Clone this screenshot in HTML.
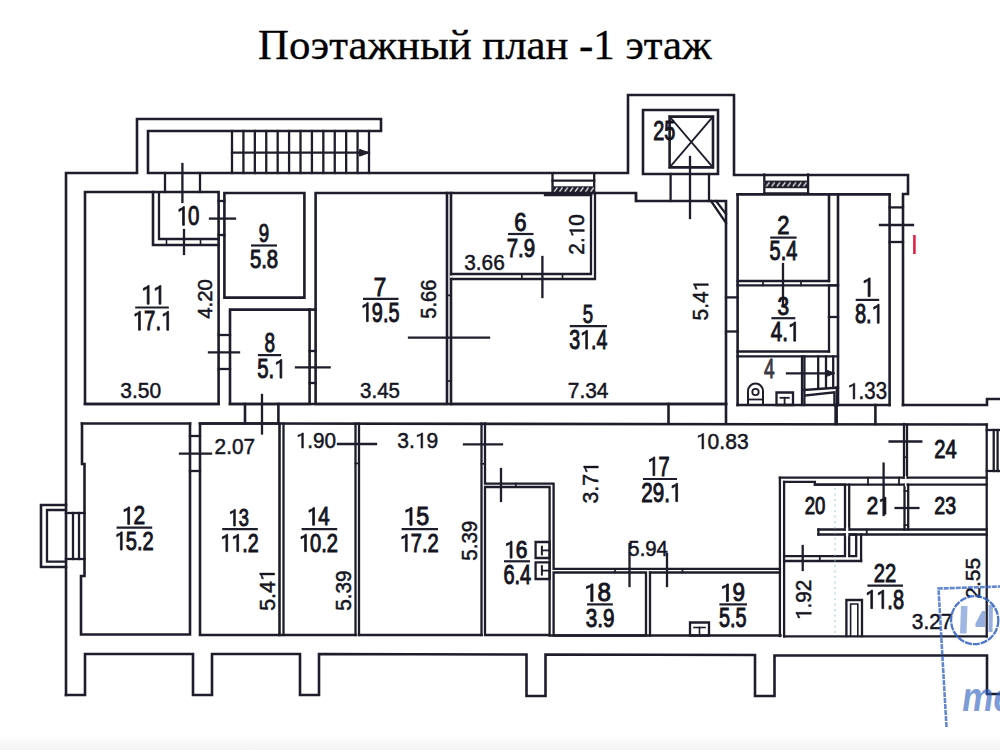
<!DOCTYPE html>
<html><head><meta charset="utf-8"><style>
html,body{margin:0;padding:0;background:#fff;width:1000px;height:750px;overflow:hidden}
svg{display:block}
</style></head><body>
<svg width="1000" height="750" viewBox="0 0 1000 750">
<defs><pattern id="hatchA" width="5.2" height="6.5" patternUnits="userSpaceOnUse" patternTransform="translate(553.5,186.3)"><rect width="5.2" height="6.5" fill="#1d1d2b"/><path d="M1.1,4.9 L3.6,1.6" stroke="#e6e6e6" stroke-width="1.3" stroke-linecap="round"/></pattern><pattern id="hatchB" width="5.3" height="7.6" patternUnits="userSpaceOnUse" patternTransform="translate(765.5,180.6)"><rect width="5.3" height="7.6" fill="#1d1d2b"/><path d="M1.1,5.5 L3.7,2.1" stroke="#e6e6e6" stroke-width="1.3" stroke-linecap="round"/></pattern></defs>
<rect width="1000" height="750" fill="#fff"/>
<defs><linearGradient id="bot" x1="0" y1="0" x2="0" y2="1"><stop offset="0" stop-color="#fff"/><stop offset="1" stop-color="#f3f3f3"/></linearGradient></defs><rect x="0" y="734" width="1000" height="16" fill="url(#bot)"/>
<text x="258" y="59" font-family="Liberation Serif" font-size="42.8" fill="#000" stroke="#000" stroke-width="0.35">Поэтажный план -1 этаж</text>
<g fill="none" stroke="#1d1d2b" stroke-linecap="square">
<path d="M66,695 L66,173 L137,173 L137,119 L381,119 L381,131 L148,131 L148,173 L628,173 L628,95 L734,95 L734,175 L908,175 L908,194 L903,194 L903,405 L987,405 L987,399 L1002,399" stroke-width="2.6" />
<path d="M66,695 L85,695 L85,654 L193,654 L193,695 L212,695 L212,654 L300,654 L300,695 L319,695 L319,654 L526.5,654.5 L526.5,696 L545.5,696 L545.5,654.5 L755,655 L755,696 L774.5,696 L774.5,655.5 L987,655.5 L987,694 L1002,694" stroke-width="2.6" />
<path d="M85,192 L218.6,192 L218.6,404 L85,404 Z" stroke-width="2.6" />
<path d="M153,192 L153,245 L218.6,245" stroke-width="2.6" />
<path d="M159,193 L159,239 L218.6,239" stroke-width="2.3" />
<path d="M224.4,193 L304.4,193 L304.4,297.6 L224.4,297.6 Z" stroke-width="2.6" />
<path d="M230,309.6 L309.6,309.6 L309.6,404 L230,404 Z" stroke-width="2.6" />
<line x1="309.6" y1="309.6" x2="315.6" y2="309.6" stroke-width="2.6" />
<path d="M315.6,193 L447,193 L447,404 L315.6,404 Z" stroke-width="2.6" />
<path d="M451,193 L451,404" stroke-width="2.6" />
<path d="M451,274 L591,274 L591,193" stroke-width="2.3" />
<path d="M451,279 L595,279 L595,193" stroke-width="2.3" />
<path d="M447,193 L636,193 L636,201 L726,201 L726,423.5" stroke-width="2.6" />
<line x1="451" y1="404" x2="726" y2="404" stroke-width="2.6" />
<line x1="737.6" y1="194.4" x2="889.6" y2="194.4" stroke-width="2.6" />
<line x1="737.6" y1="194.4" x2="737.6" y2="405" stroke-width="2.6" />
<line x1="829" y1="194.4" x2="829" y2="281" stroke-width="2.6" />
<line x1="737.6" y1="281" x2="829" y2="281" stroke-width="2.3" />
<line x1="737.6" y1="285.3" x2="838" y2="285.3" stroke-width="2.3" />
<line x1="829" y1="285.3" x2="829" y2="351.5" stroke-width="2.3" />
<line x1="737.6" y1="351.5" x2="829" y2="351.5" stroke-width="2.3" />
<line x1="737.6" y1="356.4" x2="838" y2="356.4" stroke-width="2.3" />
<line x1="838" y1="194.4" x2="838" y2="405" stroke-width="2.6" />
<line x1="889.6" y1="194.4" x2="889.6" y2="405" stroke-width="2.6" />
<line x1="737.6" y1="405" x2="889.6" y2="405" stroke-width="2.6" />
<line x1="914.4" y1="235" x2="914.4" y2="254" stroke-width="2.6" stroke="#dc2447" stroke-linecap="butt"/>
<line x1="85" y1="404" x2="218.6" y2="404" stroke-width="2.6" />
<line x1="230" y1="404" x2="726" y2="404" stroke-width="2.6" />
<line x1="82" y1="423.5" x2="190" y2="423.5" stroke-width="2.6" />
<line x1="200" y1="423.5" x2="986.8" y2="424.5" stroke-width="2.6" />
<line x1="245" y1="404" x2="245" y2="423.5" stroke-width="2.6" />
<line x1="278.4" y1="404" x2="278.4" y2="423.5" stroke-width="2.6" />
<line x1="668.5" y1="404" x2="668.5" y2="423.5" stroke-width="2.6" />
<line x1="835.6" y1="405" x2="835.6" y2="424" stroke-width="2.6" />
<line x1="875.4" y1="405" x2="875.4" y2="424" stroke-width="2.6" />
<line x1="903" y1="405" x2="903" y2="405" stroke-width="2.6" />
<path d="M190,423.5 L190,634.5 L81,634.5 L81,576 L84.5,576 L84.5,464 L82,464 L82,423.5" stroke-width="2.6" />
<path d="M200,423.5 L279.5,423.5 L279.5,635 L200,635 Z" stroke-width="2.6" />
<path d="M283.5,423.5 L283.5,635" stroke-width="2.3" />
<line x1="279.5" y1="635" x2="355.5" y2="635" stroke-width="2.6" />
<path d="M355.5,423.5 L355.5,635" stroke-width="2.3" />
<path d="M359,423.5 L359,635" stroke-width="2.3" />
<line x1="359" y1="635" x2="481.5" y2="635" stroke-width="2.6" />
<path d="M481.5,423.5 L481.5,635" stroke-width="2.3" />
<path d="M485,423.5 L485,483.6 L553.6,483.6 L553.6,568.8 L779.9,568.8" stroke-width="2.3" />
<line x1="904" y1="424" x2="904" y2="477.7" stroke-width="2.3" />
<path d="M485,487 L549.6,487 L549.6,635 L485,635 L485,487" stroke-width="2.3" />
<path d="M553.6,572.5 L646,572.5 L646,635.5 L553.6,635.5 Z" stroke-width="2.3" />
<path d="M650,572.5 L779.9,572.5" stroke-width="2.3" />
<line x1="650" y1="572.5" x2="650" y2="635.5" stroke-width="2.3" />
<line x1="549.6" y1="635.5" x2="780.4" y2="635.5" stroke-width="2.6" />
<path d="M907,424.7 L907,477.7" stroke-width="2.3" />
<line x1="779.9" y1="477.7" x2="986.7" y2="477.7" stroke-width="2.3" />
<line x1="986.7" y1="424.7" x2="986.7" y2="636.4" stroke-width="2.3" />
<path d="M908.2,484.7 L908.2,529.5" stroke-width="2.3" />
<line x1="814.9" y1="484.7" x2="986.7" y2="484.7" stroke-width="2.3" />
<line x1="849.2" y1="484.7" x2="849.2" y2="529.5" stroke-width="2.3" />
<line x1="904.5" y1="484.7" x2="904.5" y2="529.5" stroke-width="2.3" />
<line x1="818.4" y1="529.5" x2="986.7" y2="529.5" stroke-width="2.3" />
<line x1="818.4" y1="534.5" x2="986.7" y2="534.5" stroke-width="2.3" />
<line x1="818.4" y1="529.5" x2="818.4" y2="534.5" stroke-width="2.3" />
<path d="M784.1,481.9 L814.9,481.9 L814.9,484.7 L845,484.7 L845,529.5" stroke-width="2.3" />
<path d="M845,534.5 L845,556.1 L784.1,556.1" stroke-width="2.3" />
<path d="M849.2,534.5 L856.2,534.5 L856.2,556.1 L849.2,556.1 Z" stroke-width="2.3" />
<line x1="861.1" y1="534.5" x2="861.1" y2="561" stroke-width="2.3" />
<line x1="784.1" y1="561" x2="861.1" y2="561" stroke-width="2.3" />
<line x1="784.1" y1="481.9" x2="784.1" y2="636.4" stroke-width="2.3" />
<line x1="779.9" y1="477.7" x2="779.9" y2="636" stroke-width="2.3" />
<line x1="784.1" y1="636.4" x2="986.7" y2="636.4" stroke-width="2.3" />
<line x1="868" y1="477.7" x2="868" y2="484.7" stroke-width="1.8" />
<line x1="899" y1="477.7" x2="899" y2="484.7" stroke-width="1.8" />
<line x1="866.7" y1="529.5" x2="866.7" y2="534.5" stroke-width="1.8" />
<line x1="819.8" y1="556.1" x2="819.8" y2="561" stroke-width="1.8" />
<line x1="232" y1="131" x2="232" y2="173" stroke-width="2.3" />
<line x1="243.417" y1="131" x2="243.417" y2="173" stroke-width="2.3" />
<line x1="254.833" y1="131" x2="254.833" y2="173" stroke-width="2.3" />
<line x1="266.25" y1="131" x2="266.25" y2="173" stroke-width="2.3" />
<line x1="277.667" y1="131" x2="277.667" y2="173" stroke-width="2.3" />
<line x1="289.083" y1="131" x2="289.083" y2="173" stroke-width="2.3" />
<line x1="300.5" y1="131" x2="300.5" y2="173" stroke-width="2.3" />
<line x1="311.917" y1="131" x2="311.917" y2="173" stroke-width="2.3" />
<line x1="323.333" y1="131" x2="323.333" y2="173" stroke-width="2.3" />
<line x1="334.75" y1="131" x2="334.75" y2="173" stroke-width="2.3" />
<line x1="346.167" y1="131" x2="346.167" y2="173" stroke-width="2.3" />
<line x1="357.583" y1="131" x2="357.583" y2="173" stroke-width="2.3" />
<line x1="369" y1="131" x2="369" y2="173" stroke-width="2.3" />
<line x1="232" y1="152.7" x2="369" y2="152.7" stroke-width="2.3" />
<path d="M360,149.5 L369,152.7 L360,156 Z" fill="#1d1d2b" stroke-width="1"/>
<rect x="450" y="275.6" width="2.5" height="2" fill="#fff" stroke="none"/>
<line x1="521.9" y1="274" x2="521.9" y2="279" stroke-width="1.7" />
<line x1="562.5" y1="274" x2="562.5" y2="279" stroke-width="1.7" />
<line x1="447" y1="295.4" x2="451" y2="295.4" stroke-width="1.7" />
<line x1="447" y1="381" x2="451" y2="381" stroke-width="1.7" />
<line x1="763" y1="281" x2="763" y2="285.3" stroke-width="1.7" />
<line x1="801" y1="281" x2="801" y2="285.3" stroke-width="1.7" />
<line x1="355.5" y1="463.4" x2="359" y2="463.4" stroke-width="1.7" />
<line x1="481.5" y1="463.8" x2="485" y2="463.8" stroke-width="1.7" />
<line x1="515.8" y1="483.6" x2="515.8" y2="487" stroke-width="1.7" />
<line x1="615" y1="568.8" x2="615" y2="572.5" stroke-width="1.7" />
<line x1="682.5" y1="568.8" x2="682.5" y2="572.5" stroke-width="1.7" />
<line x1="904" y1="457.2" x2="907" y2="457.2" stroke-width="1.7" />
<line x1="904.5" y1="491" x2="908.2" y2="491" stroke-width="1.7" />
<line x1="904.5" y1="525.1" x2="908.2" y2="525.1" stroke-width="1.7" />
<rect x="845.9" y="527.5" width="2.4" height="9" fill="#fff" stroke="none"/>
<rect x="904.9" y="476" width="1.5" height="10.3" fill="#fff" stroke="none"/>
<line x1="166.5" y1="239" x2="166.5" y2="245" stroke-width="1.6" />
<line x1="200.5" y1="239" x2="200.5" y2="245" stroke-width="1.6" />
<line x1="165" y1="173" x2="165" y2="192" stroke-width="2.3" />
<line x1="200" y1="173" x2="200" y2="192" stroke-width="2.3" />
<line x1="218.6" y1="201" x2="224.4" y2="201" stroke-width="2.3" />
<line x1="218.6" y1="235" x2="224.4" y2="235" stroke-width="2.3" />
<line x1="218.6" y1="335" x2="230" y2="335" stroke-width="2.3" />
<line x1="218.6" y1="369" x2="230" y2="369" stroke-width="2.3" />
<line x1="309.6" y1="351" x2="315.6" y2="351" stroke-width="2.3" />
<line x1="309.6" y1="383" x2="315.6" y2="383" stroke-width="2.3" />
<line x1="670.6" y1="174" x2="670.6" y2="201" stroke-width="2.3" />
<line x1="709" y1="174" x2="709" y2="201" stroke-width="2.3" />
<line x1="190" y1="436" x2="200" y2="436" stroke-width="2.3" />
<line x1="190" y1="471" x2="200" y2="471" stroke-width="2.3" />
<line x1="726" y1="297.4" x2="737.6" y2="297.4" stroke-width="2.3" />
<line x1="726" y1="331.5" x2="737.6" y2="331.5" stroke-width="2.3" />
<line x1="889.6" y1="207.4" x2="903" y2="207.4" stroke-width="2.3" />
<line x1="889.6" y1="242" x2="903" y2="242" stroke-width="2.3" />
<line x1="829" y1="285.3" x2="838" y2="285.3" stroke-width="2.3" />
<line x1="829" y1="317" x2="838" y2="317" stroke-width="2.3" />
<line x1="182.4" y1="164" x2="182.4" y2="202" stroke-width="2.3" />
<line x1="184" y1="230" x2="184" y2="254" stroke-width="2.3" />
<line x1="210" y1="218.6" x2="235" y2="218.6" stroke-width="2.3" />
<line x1="209" y1="352.4" x2="239" y2="352.4" stroke-width="2.3" />
<line x1="296" y1="367.4" x2="329.6" y2="367.4" stroke-width="2.3" />
<line x1="262" y1="395" x2="262" y2="433.5" stroke-width="2.3" />
<line x1="409" y1="337.6" x2="489" y2="337.6" stroke-width="2.3" />
<line x1="542.4" y1="257" x2="542.4" y2="297" stroke-width="2.3" />
<line x1="690" y1="157" x2="690" y2="218" stroke-width="2.3" />
<line x1="783" y1="264" x2="783" y2="306" stroke-width="2.3" />
<line x1="880" y1="225" x2="913" y2="225" stroke-width="2.3" />
<line x1="787" y1="373.3" x2="826" y2="373.3" stroke-width="2.3" />
<line x1="180" y1="453.6" x2="211" y2="453.6" stroke-width="2.3" />
<line x1="338" y1="444" x2="376" y2="444" stroke-width="2.3" />
<line x1="464" y1="444.4" x2="502" y2="444.4" stroke-width="2.3" />
<line x1="501" y1="469" x2="501" y2="501" stroke-width="2.3" />
<line x1="629.5" y1="544" x2="629.5" y2="586" stroke-width="2.3" />
<line x1="667" y1="554" x2="667" y2="586" stroke-width="2.3" />
<line x1="889.6" y1="441.5" x2="921.3" y2="441.5" stroke-width="2.3" />
<line x1="883.6" y1="463.6" x2="883.6" y2="515" stroke-width="2.3" />
<line x1="895.6" y1="508" x2="918.4" y2="508" stroke-width="2.3" />
<line x1="802.7" y1="546" x2="802.7" y2="570" stroke-width="2.3" />
<line x1="552.5" y1="173.5" x2="552.5" y2="193" stroke-width="2.3" />
<line x1="594.2" y1="173.5" x2="594.2" y2="193" stroke-width="2.3" />
<line x1="552.5" y1="180.6" x2="594.2" y2="180.6" stroke-width="2.3" />
<rect x="552.5" y="186.3" width="41.7" height="6.5" fill="url(#hatchA)" stroke="none"/>
<line x1="545" y1="195" x2="591.2" y2="195" stroke-width="2.3" />
<line x1="764.3" y1="174.5" x2="764.3" y2="193.5" stroke-width="2.3" />
<line x1="808.1" y1="174.5" x2="808.1" y2="193.5" stroke-width="2.3" />
<line x1="764.3" y1="193.5" x2="808.1" y2="193.5" stroke-width="2.3" />
<rect x="764.3" y="180.6" width="43.8" height="7.6" fill="url(#hatchB)" stroke="none"/>
<line x1="986.8" y1="430" x2="1000" y2="430" stroke-width="2.3" />
<line x1="986.8" y1="471" x2="1000" y2="471" stroke-width="2.3" />
<line x1="993.7" y1="430" x2="993.7" y2="471" stroke-width="2.3" />
<line x1="997.6" y1="430" x2="997.6" y2="471" stroke-width="2.3" />
<path d="M66,505 L41,505 L41,567 L66,567" stroke-width="2.6" />
<path d="M66,510 L47,510 L47,561.6 L66,561.6" stroke-width="2.3" />
<path d="M66,513 L84.5,513" stroke-width="2.3" />
<path d="M66,559 L84.5,559" stroke-width="2.3" />
<line x1="73" y1="513" x2="73" y2="559" stroke-width="2.3" />
<line x1="79" y1="513" x2="79" y2="559" stroke-width="2.3" />
<path d="M643,110 L718,110 L718,174 L643,174 Z" stroke-width="2.6" />
<path d="M669.6,116.6 L713,116.6 L713,167.4 L669.6,167.4 Z" stroke-width="2.6" />
<line x1="669.6" y1="116.6" x2="713" y2="167.4" stroke-width="1.8" />
<line x1="713" y1="116.6" x2="669.6" y2="167.4" stroke-width="1.8" />
<line x1="636" y1="194" x2="636" y2="201" stroke-width="2.3" />
<path d="M711,201 L726,223" stroke-width="2.3" />
<path d="M716,201 L726,214" stroke-width="2.3" />
<line x1="802" y1="356.4" x2="802" y2="405" stroke-width="2.3" />
<line x1="804.4" y1="356.4" x2="804.4" y2="405" stroke-width="2.3" />
<line x1="818.2" y1="356.4" x2="818.2" y2="388" stroke-width="2.3" />
<line x1="826" y1="356.4" x2="826" y2="388" stroke-width="2.3" />
<line x1="833.2" y1="356.4" x2="833.2" y2="388" stroke-width="2.3" />
<path d="M804.4,390 L838,387.6" stroke-width="2.3" />
<path d="M805.6,395.4 L834.4,392.4 L834.4,405" stroke-width="2.3" />
<path d="M826,370 L835,373.3 L826,376.6 Z" fill="#1d1d2b" stroke-width="1"/>
<line x1="836.8" y1="387.6" x2="836.8" y2="423.5" stroke-width="2.3" />
<path d="M748,404 L748,391 A7.5,7.5 0 0 1 763,391 L763,404" stroke-width="2"/>
<circle cx="755.5" cy="392" r="3.2" stroke-width="1.8"/>
<line x1="748" y1="399.5" x2="763" y2="399.5" stroke-width="1.8" />
<path d="M776.5,392.5 L793,392.5 L793,405 L776.5,405 Z" stroke-width="2.3" />
<line x1="780.5" y1="397.8" x2="788.8" y2="397.8" stroke-width="1.8" />
<line x1="784.6" y1="397.8" x2="784.6" y2="405" stroke-width="1.8" />
<path d="M535.6,542 L549.6,542 L549.6,558 L535.6,558 Z" stroke-width="2.3" />
<path d="M535.6,562.4 L549.6,562.4 L549.6,579 L535.6,579 Z" stroke-width="2.3" />
<line x1="541.9" y1="546.7" x2="541.9" y2="554.4" stroke-width="2" />
<line x1="541.9" y1="550.4" x2="549.6" y2="550.4" stroke-width="1.8" />
<line x1="541.9" y1="566.2" x2="541.9" y2="574.6" stroke-width="2" />
<line x1="541.9" y1="570.6" x2="549.6" y2="570.6" stroke-width="1.8" />
<path d="M690,622.5 L709,622.5 L709,635.5 L690,635.5 Z" stroke-width="2.3" />
<line x1="694" y1="627.5" x2="705" y2="627.5" stroke-width="1.6" />
<line x1="699.5" y1="627.5" x2="699.5" y2="635.5" stroke-width="1.6" />
<path d="M846.4,636 L846.4,600 L862,600 L862,636" stroke-width="2.3" />
<path d="M850.6,636 L850.6,604 L857.8,604 L857.8,636" stroke-width="1.6" />
<line x1="251" y1="245.5" x2="277" y2="245.5" stroke-width="2.2" stroke-linecap="butt"/>
<line x1="135.2" y1="307.5" x2="168.8" y2="307.5" stroke-width="2.2" stroke-linecap="butt"/>
<line x1="363" y1="298.8" x2="398.5" y2="298.8" stroke-width="2.2" stroke-linecap="butt"/>
<line x1="257.9" y1="355.1" x2="281.2" y2="355.1" stroke-width="2.2" stroke-linecap="butt"/>
<line x1="508" y1="234" x2="533.5" y2="234" stroke-width="2.2" stroke-linecap="butt"/>
<line x1="569.8" y1="326.2" x2="607" y2="326.2" stroke-width="2.2" stroke-linecap="butt"/>
<line x1="770.2" y1="237.6" x2="796.6" y2="237.6" stroke-width="2.2" stroke-linecap="butt"/>
<line x1="771.4" y1="318.2" x2="795.3" y2="318.2" stroke-width="2.2" stroke-linecap="butt"/>
<line x1="855.7" y1="299.9" x2="879.2" y2="299.9" stroke-width="2.2" stroke-linecap="butt"/>
<line x1="116.6" y1="527.6" x2="152.2" y2="527.6" stroke-width="2.2" stroke-linecap="butt"/>
<line x1="222.2" y1="529.2" x2="257.8" y2="529.2" stroke-width="2.2" stroke-linecap="butt"/>
<line x1="301.6" y1="529.2" x2="337.2" y2="529.2" stroke-width="2.2" stroke-linecap="butt"/>
<line x1="401.6" y1="529.2" x2="438" y2="529.2" stroke-width="2.2" stroke-linecap="butt"/>
<line x1="504" y1="561.3" x2="530" y2="561.3" stroke-width="2.2" stroke-linecap="butt"/>
<line x1="643" y1="479" x2="677" y2="479" stroke-width="2.2" stroke-linecap="butt"/>
<line x1="587.1" y1="604.4" x2="612.9" y2="604.4" stroke-width="2.2" stroke-linecap="butt"/>
<line x1="719.4" y1="604.4" x2="747" y2="604.4" stroke-width="2.2" stroke-linecap="butt"/>
<line x1="867.4" y1="585.6" x2="903" y2="585.6" stroke-width="2.2" stroke-linecap="butt"/>
<line x1="835" y1="488" x2="835" y2="635" stroke-width="1.3" stroke="#8fc4cc" stroke-dasharray="2 3.5" stroke-linecap="butt" opacity="0.7"/>
</g>
<g font-family="Liberation Sans" style="font-kerning:none">
<g transform="translate(176.75,225.30) scale(0.7515,1)" fill="#15151f" stroke="#15151f" stroke-width="1.0"><text font-size="27.21"> 0</text><path transform="translate(0.000,0) scale(0.01329,-0.01329)" stroke-width="67.7" d="M583,0 L763,0 L763,1409 L650,1409 Q560,1270 215,1205 L215,1040 Q430,1100 583,1215 Z"/></g>
<g transform="translate(258.83,241.90) scale(0.7027,1)" fill="#15151f" stroke="#15151f" stroke-width="1.0"><text font-size="26.50">9</text></g>
<g transform="translate(249.88,267.60) scale(0.7810,1)" fill="#15151f" stroke="#15151f" stroke-width="1.0"><text font-size="26.07">5.8</text></g>
<g transform="translate(141.17,304.20) scale(0.7816,1)" fill="#15151f" stroke="#15151f" stroke-width="1.0"><path transform="translate(0.000,0) scale(0.01327,-0.01327)" stroke-width="67.8" d="M583,0 L763,0 L763,1409 L650,1409 Q560,1270 215,1205 L215,1040 Q430,1100 583,1215 Z"/><path transform="translate(15.117,0) scale(0.01327,-0.01327)" stroke-width="67.8" d="M583,0 L763,0 L763,1409 L650,1409 Q560,1270 215,1205 L215,1040 Q430,1100 583,1215 Z"/></g>
<g transform="translate(132.77,330.20) scale(0.7361,1)" fill="#15151f" stroke="#15151f" stroke-width="1.0"><text font-size="27.62"> 7. </text><path transform="translate(0.000,0) scale(0.01348,-0.01348)" stroke-width="66.7" d="M583,0 L763,0 L763,1409 L650,1409 Q560,1270 215,1205 L215,1040 Q430,1100 583,1215 Z"/><path transform="translate(38.391,0) scale(0.01348,-0.01348)" stroke-width="66.7" d="M583,0 L763,0 L763,1409 L650,1409 Q560,1270 215,1205 L215,1040 Q430,1100 583,1215 Z"/></g>
<g transform="translate(373.75,295.60) scale(0.8721,1)" fill="#15151f" stroke="#15151f" stroke-width="1.0"><text font-size="25.73">7</text></g>
<g transform="translate(360.82,321.60) scale(0.7215,1)" fill="#15151f" stroke="#15151f" stroke-width="1.0"><text font-size="27.50"> 9.5</text><path transform="translate(0.000,0) scale(0.01343,-0.01343)" stroke-width="67.0" d="M583,0 L763,0 L763,1409 L650,1409 Q560,1270 215,1205 L215,1040 Q430,1100 583,1215 Z"/></g>
<g transform="translate(264.48,352.10) scale(0.7007,1)" fill="#15151f" stroke="#15151f" stroke-width="1.0"><text font-size="27.07">8</text></g>
<g transform="translate(257.18,378.10) scale(0.7547,1)" fill="#15151f" stroke="#15151f" stroke-width="1.0"><text font-size="27.04">5. </text><path transform="translate(22.547,0) scale(0.01320,-0.01320)" stroke-width="68.2" d="M583,0 L763,0 L763,1409 L650,1409 Q560,1270 215,1205 L215,1040 Q430,1100 583,1215 Z"/></g>
<g transform="translate(514.28,230.60) scale(0.8298,1)" fill="#15151f" stroke="#15151f" stroke-width="1.0"><text font-size="26.64">6</text></g>
<g transform="translate(506.65,256.60) scale(0.7674,1)" fill="#15151f" stroke="#15151f" stroke-width="1.0"><text font-size="26.64">7.9</text></g>
<g transform="translate(582.86,323.00) scale(0.7094,1)" fill="#15151f" stroke="#15151f" stroke-width="1.0"><text font-size="26.16">5</text></g>
<g transform="translate(569.25,349.00) scale(0.7198,1)" fill="#15151f" stroke="#15151f" stroke-width="1.0"><text font-size="27.21">3 .4</text><path transform="translate(15.134,0) scale(0.01329,-0.01329)" stroke-width="67.7" d="M583,0 L763,0 L763,1409 L650,1409 Q560,1270 215,1205 L215,1040 Q430,1100 583,1215 Z"/></g>
<g transform="translate(777.30,234.00) scale(0.8330,1)" fill="#15151f" stroke="#15151f" stroke-width="1.0"><text font-size="26.35">2</text></g>
<g transform="translate(769.60,260.40) scale(0.7474,1)" fill="#15151f" stroke="#15151f" stroke-width="1.0"><text font-size="26.74">5.4</text></g>
<g transform="translate(777.60,315.00) scale(0.8284,1)" fill="#15151f" stroke="#15151f" stroke-width="1.0"><text font-size="25.21">3</text></g>
<g transform="translate(770.73,341.20) scale(0.7349,1)" fill="#15151f" stroke="#15151f" stroke-width="1.0"><text font-size="28.05">4. </text><path transform="translate(23.396,0) scale(0.01370,-0.01370)" stroke-width="65.7" d="M583,0 L763,0 L763,1409 L650,1409 Q560,1270 215,1205 L215,1040 Q430,1100 583,1215 Z"/></g>
<g transform="translate(861.75,296.60) scale(0.8294,1)" fill="#15151f" stroke="#15151f" stroke-width="1.0"><path transform="translate(0.000,0) scale(0.01320,-0.01320)" stroke-width="68.2" d="M583,0 L763,0 L763,1409 L650,1409 Q560,1270 215,1205 L215,1040 Q430,1100 583,1215 Z"/></g>
<g transform="translate(854.93,323.20) scale(0.7248,1)" fill="#15151f" stroke="#15151f" stroke-width="1.0"><text font-size="27.64">8. </text><path transform="translate(23.052,0) scale(0.01350,-0.01350)" stroke-width="66.7" d="M583,0 L763,0 L763,1409 L650,1409 Q560,1270 215,1205 L215,1040 Q430,1100 583,1215 Z"/></g>
<g transform="translate(653.20,139.50) scale(0.7238,1)" fill="#15151f" stroke="#15151f" stroke-width="1.0"><text font-size="27.50">25</text></g>
<g transform="translate(121.81,524.40) scale(0.8291,1)" fill="#15151f" stroke="#15151f" stroke-width="1.0"><text font-size="25.21"> 2</text><path transform="translate(0.000,0) scale(0.01231,-0.01231)" stroke-width="73.1" d="M583,0 L763,0 L763,1409 L650,1409 Q560,1270 215,1205 L215,1040 Q430,1100 583,1215 Z"/></g>
<g transform="translate(114.69,550.00) scale(0.7628,1)" fill="#15151f" stroke="#15151f" stroke-width="1.0"><text font-size="26.35"> 5.2</text><path transform="translate(0.000,0) scale(0.01287,-0.01287)" stroke-width="69.9" d="M583,0 L763,0 L763,1409 L650,1409 Q560,1270 215,1205 L215,1040 Q430,1100 583,1215 Z"/></g>
<g transform="translate(228.48,526.00) scale(0.7593,1)" fill="#15151f" stroke="#15151f" stroke-width="1.0"><text font-size="24.06"> 3</text><path transform="translate(0.000,0) scale(0.01175,-0.01175)" stroke-width="76.6" d="M583,0 L763,0 L763,1409 L650,1409 Q560,1270 215,1205 L215,1040 Q430,1100 583,1215 Z"/></g>
<g transform="translate(220.34,551.60) scale(0.7797,1)" fill="#15151f" stroke="#15151f" stroke-width="1.0"><text font-size="25.21">  .2</text><path transform="translate(0.000,0) scale(0.01231,-0.01231)" stroke-width="73.1" d="M583,0 L763,0 L763,1409 L650,1409 Q560,1270 215,1205 L215,1040 Q430,1100 583,1215 Z"/><path transform="translate(14.018,0) scale(0.01231,-0.01231)" stroke-width="73.1" d="M583,0 L763,0 L763,1409 L650,1409 Q560,1270 215,1205 L215,1040 Q430,1100 583,1215 Z"/></g>
<g transform="translate(306.85,525.20) scale(0.7994,1)" fill="#15151f" stroke="#15151f" stroke-width="1.0"><text font-size="25.58"> 4</text><path transform="translate(0.000,0) scale(0.01249,-0.01249)" stroke-width="72.1" d="M583,0 L763,0 L763,1409 L650,1409 Q560,1270 215,1205 L215,1040 Q430,1100 583,1215 Z"/></g>
<g transform="translate(298.89,551.60) scale(0.7974,1)" fill="#15151f" stroke="#15151f" stroke-width="1.0"><text font-size="25.21"> 0.2</text><path transform="translate(0.000,0) scale(0.01231,-0.01231)" stroke-width="73.1" d="M583,0 L763,0 L763,1409 L650,1409 Q560,1270 215,1205 L215,1040 Q430,1100 583,1215 Z"/></g>
<g transform="translate(403.36,525.20) scale(0.9071,1)" fill="#15151f" stroke="#15151f" stroke-width="1.0"><text font-size="25.58"> 5</text><path transform="translate(0.000,0) scale(0.01249,-0.01249)" stroke-width="72.1" d="M583,0 L763,0 L763,1409 L650,1409 Q560,1270 215,1205 L215,1040 Q430,1100 583,1215 Z"/></g>
<g transform="translate(399.69,551.60) scale(0.7974,1)" fill="#15151f" stroke="#15151f" stroke-width="1.0"><text font-size="25.21"> 7.2</text><path transform="translate(0.000,0) scale(0.01231,-0.01231)" stroke-width="73.1" d="M583,0 L763,0 L763,1409 L650,1409 Q560,1270 215,1205 L215,1040 Q430,1100 583,1215 Z"/></g>
<g transform="translate(504.20,558.10) scale(0.8512,1)" fill="#15151f" stroke="#15151f" stroke-width="1.0"><text font-size="24.63"> 6</text><path transform="translate(0.000,0) scale(0.01203,-0.01203)" stroke-width="74.8" d="M583,0 L763,0 L763,1409 L650,1409 Q560,1270 215,1205 L215,1040 Q430,1100 583,1215 Z"/></g>
<g transform="translate(503.38,583.60) scale(0.7467,1)" fill="#15151f" stroke="#15151f" stroke-width="1.0"><text font-size="26.78">6.4</text></g>
<g transform="translate(647.29,475.60) scale(0.7381,1)" fill="#15151f" stroke="#15151f" stroke-width="1.0"><text font-size="27.18"> 7</text><path transform="translate(0.000,0) scale(0.01327,-0.01327)" stroke-width="67.8" d="M583,0 L763,0 L763,1409 L650,1409 Q560,1270 215,1205 L215,1040 Q430,1100 583,1215 Z"/></g>
<g transform="translate(641.37,501.60) scale(0.7675,1)" fill="#15151f" stroke="#15151f" stroke-width="1.0"><text font-size="26.78">29. </text><path transform="translate(37.230,0) scale(0.01308,-0.01308)" stroke-width="68.8" d="M583,0 L763,0 L763,1409 L650,1409 Q560,1270 215,1205 L215,1040 Q430,1100 583,1215 Z"/></g>
<g transform="translate(583.96,601.40) scale(0.9536,1)" fill="#15151f" stroke="#15151f" stroke-width="1.0"><text font-size="25.35"> 8</text><path transform="translate(0.000,0) scale(0.01238,-0.01238)" stroke-width="72.7" d="M583,0 L763,0 L763,1409 L650,1409 Q560,1270 215,1205 L215,1040 Q430,1100 583,1215 Z"/></g>
<g transform="translate(585.71,627.30) scale(0.7769,1)" fill="#15151f" stroke="#15151f" stroke-width="1.0"><text font-size="26.64">3.9</text></g>
<g transform="translate(720.05,601.40) scale(0.8835,1)" fill="#15151f" stroke="#15151f" stroke-width="1.0"><text font-size="25.35"> 9</text><path transform="translate(0.000,0) scale(0.01238,-0.01238)" stroke-width="72.7" d="M583,0 L763,0 L763,1409 L650,1409 Q560,1270 215,1205 L215,1040 Q430,1100 583,1215 Z"/></g>
<g transform="translate(718.90,627.30) scale(0.7352,1)" fill="#15151f" stroke="#15151f" stroke-width="1.0"><text font-size="27.04">5.5</text></g>
<g transform="translate(804.77,514.20) scale(0.7540,1)" fill="#15151f" stroke="#15151f" stroke-width="1.0"><text font-size="24.63">20</text></g>
<g transform="translate(866.76,514.20) scale(0.8365,1)" fill="#15151f" stroke="#15151f" stroke-width="1.0"><text font-size="24.63">2 </text><path transform="translate(13.700,0) scale(0.01203,-0.01203)" stroke-width="74.8" d="M583,0 L763,0 L763,1409 L650,1409 Q560,1270 215,1205 L215,1040 Q430,1100 583,1215 Z"/></g>
<g transform="translate(934.32,514.20) scale(0.7935,1)" fill="#15151f" stroke="#15151f" stroke-width="1.0"><text font-size="24.63">23</text></g>
<g transform="translate(934.29,458.40) scale(0.7770,1)" fill="#15151f" stroke="#15151f" stroke-width="1.0"><text font-size="25.92">24</text></g>
<g transform="translate(873.79,582.20) scale(0.7652,1)" fill="#15151f" stroke="#15151f" stroke-width="1.0"><text font-size="26.35">22</text></g>
<g transform="translate(865.10,608.60) scale(0.7437,1)" fill="#15151f" stroke="#15151f" stroke-width="1.0"><text font-size="26.92">  .8</text><path transform="translate(0.000,0) scale(0.01315,-0.01315)" stroke-width="68.5" d="M583,0 L763,0 L763,1409 L650,1409 Q560,1270 215,1205 L215,1040 Q430,1100 583,1215 Z"/><path transform="translate(14.974,0) scale(0.01315,-0.01315)" stroke-width="68.5" d="M583,0 L763,0 L763,1409 L650,1409 Q560,1270 215,1205 L215,1040 Q430,1100 583,1215 Z"/></g>
<g transform="translate(763.96,378.00) scale(0.6862,1)" fill="#3a3a44" stroke="#3a3a44" stroke-width="1.0"><text font-size="27.76">4</text></g>
<g transform="translate(120.35,397.60) scale(0.9478,1)" fill="#15151f" stroke="#15151f" stroke-width="0.5"><text font-size="22.13">3.50</text></g>
<g transform="translate(360.12,398.10) scale(0.9281,1)" fill="#15151f" stroke="#15151f" stroke-width="0.5"><text font-size="22.06">3.45</text></g>
<g transform="translate(464.21,270.10) scale(0.9624,1)" fill="#15151f" stroke="#15151f" stroke-width="0.5"><text font-size="21.63">3.66</text></g>
<g transform="translate(567.83,398.35) scale(0.9285,1)" fill="#15151f" stroke="#15151f" stroke-width="0.5"><text font-size="22.49">7.34</text></g>
<g transform="translate(847.26,399.10) scale(0.8801,1)" fill="#15151f" stroke="#15151f" stroke-width="0.5"><text font-size="23.20"> .33</text><path transform="translate(0.000,0) scale(0.01133,-0.01133)" stroke-width="39.7" d="M583,0 L763,0 L763,1409 L650,1409 Q560,1270 215,1205 L215,1040 Q430,1100 583,1215 Z"/></g>
<g transform="translate(214.60,453.60) scale(0.9265,1)" fill="#15151f" stroke="#15151f" stroke-width="0.5"><text font-size="22.49">2.07</text></g>
<g transform="translate(295.72,448.10) scale(0.9391,1)" fill="#15151f" stroke="#15151f" stroke-width="0.5"><text font-size="22.13"> .90</text><path transform="translate(0.000,0) scale(0.01080,-0.01080)" stroke-width="41.7" d="M583,0 L763,0 L763,1409 L650,1409 Q560,1270 215,1205 L215,1040 Q430,1100 583,1215 Z"/></g>
<g transform="translate(397.35,448.10) scale(0.9520,1)" fill="#15151f" stroke="#15151f" stroke-width="0.5"><text font-size="22.13">3. 9</text><path transform="translate(18.454,0) scale(0.01080,-0.01080)" stroke-width="41.7" d="M583,0 L763,0 L763,1409 L650,1409 Q560,1270 215,1205 L215,1040 Q430,1100 583,1215 Z"/></g>
<g transform="translate(695.89,448.90) scale(0.9373,1)" fill="#15151f" stroke="#15151f" stroke-width="0.5"><text font-size="22.49"> 0.83</text><path transform="translate(0.000,0) scale(0.01098,-0.01098)" stroke-width="41.0" d="M583,0 L763,0 L763,1409 L650,1409 Q560,1270 215,1205 L215,1040 Q430,1100 583,1215 Z"/></g>
<g transform="translate(628.34,556.35) scale(0.9349,1)" fill="#15151f" stroke="#15151f" stroke-width="0.5"><text font-size="21.77">5.94</text></g>
<g transform="translate(911.86,629.10) scale(0.9569,1)" fill="#15151f" stroke="#15151f" stroke-width="0.5"><text font-size="21.77">3.27</text></g>
<g transform="translate(211.60,318.77) rotate(-90) scale(0.9762,1)" fill="#15151f" stroke="#15151f" stroke-width="0.5"><text font-size="20.77">4.20</text></g>
<g transform="translate(436.30,318.71) rotate(-90) scale(0.9250,1)" fill="#15151f" stroke="#15151f" stroke-width="0.5"><text font-size="21.77">5.66</text></g>
<g transform="translate(584.30,254.64) rotate(-90) scale(0.9716,1)" fill="#15151f" stroke="#15151f" stroke-width="0.5"><text font-size="21.34">2. 0</text><path transform="translate(17.797,0) scale(0.01042,-0.01042)" stroke-width="43.2" d="M583,0 L763,0 L763,1409 L650,1409 Q560,1270 215,1205 L215,1040 Q430,1100 583,1215 Z"/></g>
<g transform="translate(708.30,320.43) rotate(-90) scale(0.9623,1)" fill="#15151f" stroke="#15151f" stroke-width="0.5"><text font-size="21.66">5.4 </text><path transform="translate(30.107,0) scale(0.01057,-0.01057)" stroke-width="42.6" d="M583,0 L763,0 L763,1409 L650,1409 Q560,1270 215,1205 L215,1040 Q430,1100 583,1215 Z"/></g>
<g transform="translate(598.30,503.41) rotate(-90) scale(0.9918,1)" fill="#15151f" stroke="#15151f" stroke-width="0.5"><text font-size="21.34">3.7 </text><path transform="translate(29.665,0) scale(0.01042,-0.01042)" stroke-width="43.2" d="M583,0 L763,0 L763,1409 L650,1409 Q560,1270 215,1205 L215,1040 Q430,1100 583,1215 Z"/></g>
<g transform="translate(274.60,610.76) rotate(-90) scale(0.9864,1)" fill="#15151f" stroke="#15151f" stroke-width="0.5"><text font-size="21.66">5.4 </text><path transform="translate(30.107,0) scale(0.01057,-0.01057)" stroke-width="42.6" d="M583,0 L763,0 L763,1409 L650,1409 Q560,1270 215,1205 L215,1040 Q430,1100 583,1215 Z"/></g>
<g transform="translate(350.60,610.73) rotate(-90) scale(0.9514,1)" fill="#15151f" stroke="#15151f" stroke-width="0.5"><text font-size="21.77">5.39</text></g>
<g transform="translate(476.90,560.72) rotate(-90) scale(0.9695,1)" fill="#15151f" stroke="#15151f" stroke-width="0.5"><text font-size="21.20">5.39</text></g>
<g transform="translate(811.30,620.08) rotate(-90) scale(0.9297,1)" fill="#15151f" stroke="#15151f" stroke-width="0.5"><text font-size="22.34"> .92</text><path transform="translate(0.000,0) scale(0.01091,-0.01091)" stroke-width="41.2" d="M583,0 L763,0 L763,1409 L650,1409 Q560,1270 215,1205 L215,1040 Q430,1100 583,1215 Z"/></g>
<g transform="translate(979.90,598.66) rotate(-90) scale(1.0104,1)" fill="#15151f" stroke="#15151f" stroke-width="0.5"><text font-size="20.77">2.55</text></g>
</g>
<path d="M946.5,727 L938.5,588.5 L1002,586.5" fill="none" stroke="#2f5fc0" stroke-width="2.6" stroke-dasharray="5 1" opacity="0.75"/>
<ellipse cx="974.7" cy="620.2" rx="23.6" ry="24" fill="none" stroke="#2f5fc0" stroke-width="2.3" stroke-dasharray="7 1" opacity="0.85"/>
<path d="M961,606 L967.5,606 L966.5,633.5 L960,633.5 Z" fill="#2f5fc0" opacity="0.45"/>
<path d="M982,611 L985,611 L985,627 L975.5,627 L975.5,623.5 Z" fill="#2f5fc0" opacity="0.5"/>
<path d="M988.5,605 L993,605 L992.5,632 L988.5,632 Z" fill="#2f5fc0" opacity="0.5"/>
<text transform="translate(960.5,710.5) skewX(-8) scale(0.86,1)" font-family="Liberation Sans" font-weight="bold" font-size="41" fill="#2f5fc0" opacity="0.62">me</text>
</svg>
</body></html>
